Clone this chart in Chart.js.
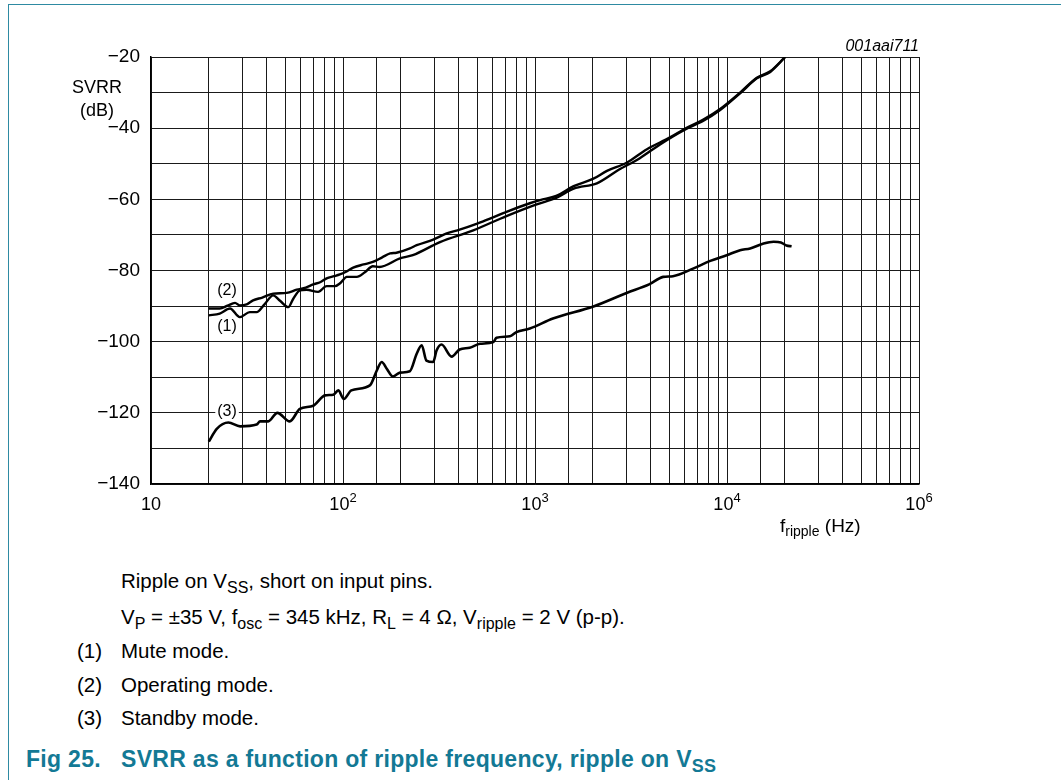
<!DOCTYPE html>
<html lang="en">
<head>
  <meta charset="UTF-8">
  <title>SVRR as a function of ripple frequency</title>
  <script src="https://cdn.jsdelivr.net/npm/chart.js@4.4.0"></script>
  <style>
    body {
      margin: 0;
      background: #fff;
      font-family: Arial, "Liberation Sans", sans-serif;
    }
    .page {
      position: relative;
      width: 1061px;
      height: 780px;
      overflow: hidden;
    }
    .frame {
      position: absolute;
      left: 8px;
      top: 4px;
      right: 0;
      bottom: 0;
      border-left: 1px solid #2e8aa2;
      border-top: 1px solid #2e8aa2;
    }
    #chartSvrr {
      position: absolute;
      left: 0;
      top: 0;
    }
    .note {
      position: absolute;
      font-size: 20.5px;
      line-height: 1;
      color: #000;
      white-space: nowrap;
      transform: translateY(-50%);
    }
    .note sub {
      font-size: 16px;
      vertical-align: baseline;
      position: relative;
      top: 5px;
    }
    .fig {
      position: absolute;
      font-size: 23px;
      font-weight: bold;
      line-height: 1;
      color: #137995;
      white-space: nowrap;
      letter-spacing: 0.3px;
      transform: translateY(-50%);
    }
    .fig sub {
      font-size: 18px;
      vertical-align: baseline;
      position: relative;
      top: 5px;
    }
  </style>
</head>
<body>
  <div class="page">
    <div class="frame"></div>
    <canvas id="chartSvrr" width="1061" height="545"></canvas>

    <div class="note" style="left:121px; top:581px">Ripple on V<sub>SS</sub>, short on input pins.</div>
    <div class="note" style="left:121px; top:617px">V<sub>P</sub> = ±35 V, f<sub>osc</sub> = 345 kHz, R<sub>L</sub> = 4 Ω, V<sub>ripple</sub> = 2 V (p-p).</div>
    <div class="note" style="left:77px; top:651px">(1)</div>
    <div class="note" style="left:121px; top:651px">Mute mode.</div>
    <div class="note" style="left:77px; top:685px">(2)</div>
    <div class="note" style="left:121px; top:685px">Operating mode.</div>
    <div class="note" style="left:77px; top:718px">(3)</div>
    <div class="note" style="left:121px; top:718px">Standby mode.</div>
    <div class="fig" style="left:26px; top:759px">Fig 25.</div>
    <div class="fig" style="left:121px; top:759px">SVRR as a function of ripple frequency, ripple on V<sub>SS</sub></div>
  </div>

  <script>
    // axis ticks
    const xTickValues = [10, 100, 1000, 10000, 100000];
    const xTickExps = ['', '2', '3', '4', '6'];
    const yTickValues = [-20, -40, -60, -80, -100, -120, -140];

    // (2) operating mode
    const freqOperating = [20, 22.8, 25, 27.4, 29, 31.5, 34, 38, 43.3, 50.9,
      57.4, 64, 70, 76, 82.2, 90, 96.3, 105, 113, 128,
      143, 160, 176, 190, 223, 242, 295, 347, 405, 500,
      583, 710, 940, 1063, 1290, 1590, 2015, 2370, 3000, 3830,
      5050, 6160, 7530, 9170, 11700, 14300, 16800, 20100];
    const svrrOperating = [-90.7, -90.7, -89.9, -89.1, -89.8, -89.5, -88.4, -87.6, -86.5, -86.3,
      -85.4, -84.8, -83.9, -83.3, -82.2, -81.6, -81.1, -80.2, -79.2, -78.3,
      -77.6, -76.3, -75.2, -75.0, -73.8, -72.9, -71.3, -69.6, -68.5, -66.8,
      -65.4, -63.5, -61.1, -60.2, -59.0, -56.3, -54.2, -52.0, -49.7, -45.9,
      -42.6, -39.9, -37.6, -34.7, -30.0, -25.8, -24.0, -20.0];

    // (1) mute mode
    const freqMute = [20, 22.8, 25.8, 29, 32.7, 35.5, 39, 43.3, 47, 51.9,
      55, 59.6, 64.6, 74.2, 82.2, 90.9, 97, 104.6, 118, 130,
      143, 155, 198, 231, 320, 477, 710, 1020, 1290, 1590,
      2100, 2730, 3500, 4500, 6000, 7500, 9170, 11700, 14300, 16800,
      20100];
    const svrrMute = [-92.6, -92.1, -90.7, -93.1, -91.7, -91.7, -89.5, -87.0, -88.5, -90.3,
      -88.0, -85.6, -85.4, -86.0, -84.4, -84.4, -83.5, -81.8, -81.8, -80.5,
      -78.8, -79.0, -76.6, -75.7, -72.0, -68.7, -64.7, -61.4, -59.6, -57.0,
      -55.5, -51.7, -48.5, -44.5, -40.5, -38.0, -35.0, -30.2, -26.0, -24.2,
      -20.0];

    // (3) standby mode
    const freqStandby = [20, 22, 25.3, 29.1, 35.5, 37, 40.8, 45.5, 52.8, 59.6,
      70, 80.6, 89, 94.5, 101, 110.5, 138, 150, 159, 169,
      182, 198, 223, 242, 257, 272, 295, 307, 326, 368,
      405, 457, 517, 607, 630, 740, 800, 940, 1240, 2015,
      3000, 3930, 4650, 5230, 6700, 8180, 9960, 11700, 13200, 15500,
      17500, 19100, 20400, 21700];
    const svrrStandby = [-128.1, -124.5, -122.7, -123.8, -123.3, -122.4, -122.4, -120.0, -122.4, -118.9,
      -118.0, -115.1, -114.9, -113.7, -116.1, -113.7, -112.3, -108.1, -105.7, -107.6,
      -109.8, -108.7, -108.3, -103.4, -101.0, -105.3, -105.7, -102.5, -100.8, -104.2,
      -102.2, -101.7, -100.6, -100.1, -98.9, -98.5, -97.3, -96.3, -93.5, -90.1,
      -86.3, -83.9, -81.8, -81.6, -79.4, -77.3, -75.7, -74.3, -73.8, -72.4,
      -71.9, -72.1, -73.0, -73.2];

    // curve labels, in data units
    const curveLabels = ['(2)', '(1)', '(3)'];
    const curveLabelX = [24.9, 24.9, 24.9];
    const curveLabelY = [-85.7, -95.9, -119.6];

    const FONT = 'Arial, "Liberation Sans", sans-serif';

    function toPoints(xs, ys) {
      return xs.map((x, i) => ({ x: x, y: ys[i] }));
    }

    function curve(label, xs, ys, width) {
      return {
        label: label,
        data: toPoints(xs, ys),
        borderColor: '#000',
        borderWidth: width,
        pointRadius: 0,
        fill: false,
        cubicInterpolationMode: 'monotone'
      };
    }

    function drawPow(ctx, base, exp, cx, baseline) {
      ctx.font = '18px ' + FONT;
      const wb = ctx.measureText(base).width;
      ctx.font = '13px ' + FONT;
      const we = exp ? ctx.measureText(exp).width : 0;
      const left = cx - (wb + we) / 2;
      ctx.textAlign = 'left';
      ctx.font = '18px ' + FONT;
      ctx.fillText(base, left, baseline);
      if (exp) {
        ctx.font = '13px ' + FONT;
        ctx.fillText(exp, left + wb, baseline - 8);
      }
    }

    const decor = {
      id: 'decor',
      afterDraw(chart) {
        const { ctx, chartArea, scales } = chart;
        const x = scales.x, y = scales.y;
        ctx.save();
        ctx.fillStyle = '#000';

        // y tick labels
        ctx.font = '19px ' + FONT;
        ctx.textAlign = 'right';
        ctx.textBaseline = 'middle';
        yTickValues.forEach(v => {
          ctx.fillText('\u2212' + Math.abs(v), chartArea.left - 11, y.getPixelForValue(v));
        });

        // x tick labels
        ctx.textBaseline = 'alphabetic';
        xTickValues.forEach((v, i) => {
          drawPow(ctx, '10', xTickExps[i], x.getPixelForValue(v), chartArea.bottom + 26);
        });

        // axis titles
        ctx.font = '18px ' + FONT;
        ctx.textAlign = 'center';
        ctx.textBaseline = 'middle';
        ctx.fillText('SVRR', 97, 88);
        ctx.fillText('(dB)', 97, 111);

        ctx.textAlign = 'left';
        ctx.textBaseline = 'alphabetic';
        const fx = 780, fy = 532;
        ctx.font = '19px ' + FONT;
        ctx.fillText('f', fx, fy);
        const wf = ctx.measureText('f').width;
        ctx.font = '14px ' + FONT;
        ctx.fillText('ripple', fx + wf, fy + 4);
        const wr = ctx.measureText('ripple').width;
        ctx.font = '19px ' + FONT;
        ctx.fillText(' (Hz)', fx + wf + wr, fy);

        // figure code
        ctx.font = 'italic 16px ' + FONT;
        ctx.textAlign = 'right';
        ctx.fillText('001aai711', chartArea.right, chartArea.top - 6);

        // curve labels
        ctx.font = '16px ' + FONT;
        ctx.textAlign = 'center';
        ctx.textBaseline = 'middle';
        curveLabels.forEach((t, i) => {
          const px = x.getPixelForValue(curveLabelX[i]);
          const py = y.getPixelForValue(curveLabelY[i]);
          const w = ctx.measureText(t).width;
          ctx.fillStyle = '#fff';
          ctx.fillRect(px - w / 2 - 2, py - 9, w + 4, 18);
          ctx.fillStyle = '#000';
          ctx.fillText(t, px, py);
        });
        ctx.restore();
      }
    };

    new Chart(document.getElementById('chartSvrr'), {
      type: 'line',
      data: {
        datasets: [
          curve('Mute mode', freqMute, svrrMute, 2.4),
          curve('Operating mode', freqOperating, svrrOperating, 2.4),
          curve('Standby mode', freqStandby, svrrStandby, 2.6)
        ]
      },
      options: {
        responsive: false,
        animation: false,
        devicePixelRatio: 1,
        layout: {
          padding: { left: 151, top: 57, right: 142, bottom: 61 }
        },
        plugins: {
          legend: { display: false },
          tooltip: { enabled: false }
        },
        scales: {
          x: {
            type: 'logarithmic',
            min: 10,
            max: 100000,
            ticks: { display: false, autoSkip: false },
            grid: { color: '#1a1a1a', lineWidth: 1, drawTicks: false },
            border: { display: true, color: '#000', width: 1.5 }
          },
          y: {
            type: 'linear',
            min: -140,
            max: -20,
            ticks: { display: false, stepSize: 10, autoSkip: false },
            grid: { color: '#1a1a1a', lineWidth: 1, drawTicks: false },
            border: { display: true, color: '#000', width: 1.5 }
          }
        }
      },
      plugins: [decor]
    });
  </script>
</body>
</html>
